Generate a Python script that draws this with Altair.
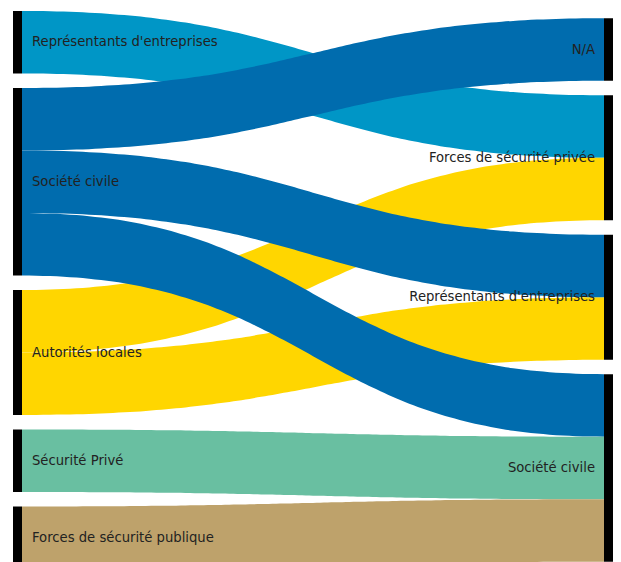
import altair as alt
import numpy as np
import pandas as pd

# ---- data ----
left_nodes = ["Représentants d'entreprises", "Société civile", "Autorités locales",
              "Sécurité Privé", "Forces de sécurité publique"]
right_nodes = ["N/A", "Forces de sécurité privée", "Représentants d'entreprises", "Société civile"]
right_labels = ["N/A", "Forces de sécurité privée", "Représentants d'entreprises  ", "Société civile"]

link_source = ["Représentants d'entreprises", "Autorités locales", "Autorités locales",
               "Société civile", "Société civile", "Société civile",
               "Sécurité Privé", "Forces de sécurité publique"]
link_target = ["Forces de sécurité privée", "Forces de sécurité privée", "Représentants d'entreprises",
               "N/A", "Représentants d'entreprises", "Société civile",
               "Société civile", "Société civile"]
link_value = [1, 1, 1, 1, 1, 1, 1, 1]

source_colors = {
    "Représentants d'entreprises": "#0096C6",
    "Société civile": "#006CAE",
    "Autorités locales": "#FFD600",
    "Sécurité Privé": "#69BFA1",
    "Forces de sécurité publique": "#BEA26B",
}

# ---- layout parameters ----
W, H = 605, 554
PX_PER_UNIT = 62.5
GAP = 14.5 / PX_PER_UNIT
SPAN_X = 600.0
NODE_W = 9 / SPAN_X
PAD_LEFT = 5 / SPAN_X
PAD_TOP = 3 / PX_PER_UNIT

n = len(link_value)
left_val = {k: sum(v for s, v in zip(link_source, link_value) if s == k) for k in left_nodes}
right_val = {k: sum(v for t, v in zip(link_target, link_value) if t == k) for k in right_nodes}
tot_l = sum(left_val.values()) + GAP * (len(left_nodes) - 1)
tot_r = sum(right_val.values()) + GAP * (len(right_nodes) - 1)
tot = max(tot_l, tot_r)

def tops(nodes, vals, total):
    y = (tot - total) / 2
    out = {}
    for k in nodes:
        out[k] = y
        y += vals[k] + GAP
    return out

ltop = tops(left_nodes, left_val, tot_l)
rtop = tops(right_nodes, right_val, tot_r)

# link ends
y0 = [0.0] * n
y1 = [0.0] * n
for k in left_nodes:
    idx = sorted([i for i in range(n) if link_source[i] == k], key=lambda i: right_nodes.index(link_target[i]))
    y = ltop[k]
    for i in idx:
        y0[i] = y
        y += link_value[i]
for k in right_nodes:
    idx = sorted([i for i in range(n) if link_target[i] == k], key=lambda i: left_nodes.index(link_source[i]))
    y = rtop[k]
    for i in idx:
        y1[i] = y
        y += link_value[i]

xa, xb = NODE_W, 1 - NODE_W
xm = (xa + xb) / 2
t = np.linspace(0, 1, 61)
def bez(p0, p1, p2, p3):
    return (1 - t) ** 3 * p0 + 3 * (1 - t) ** 2 * t * p1 + 3 * (1 - t) * t ** 2 * p2 + t ** 3 * p3

rows = []
for i in range(n):
    xs = bez(xa, xm, xm, xb)
    yt = bez(y0[i], y0[i], y1[i], y1[i])
    yb = yt + link_value[i]
    for a, b, c in zip(xs, yt, yb):
        rows.append({"link": i, "x": a, "y": b, "y2": c})
links_df = pd.DataFrame(rows)

nodes_rows = []
for k in left_nodes:
    nodes_rows.append({"label": k, "x": 0.0, "x2": NODE_W, "y": ltop[k], "y2": ltop[k] + left_val[k], "side": "L"})
for k, lab in zip(right_nodes, right_labels):
    nodes_rows.append({"label": lab, "x": 1 - NODE_W, "x2": 1.0, "y": rtop[k], "y2": rtop[k] + right_val[k], "side": "R"})
nodes_df = pd.DataFrame(nodes_rows)
nodes_df["ym"] = (nodes_df["y"] + nodes_df["y2"]) / 2

xs_scale = alt.Scale(domain=[-PAD_LEFT, -PAD_LEFT + W / SPAN_X], nice=False, zero=False)
ys_scale = alt.Scale(domain=[-PAD_TOP, -PAD_TOP + H / PX_PER_UNIT], nice=False, zero=False, reverse=True)

draw_order = [0, 1, 2, 3, 4, 5, 6, 7]
layers = []
for i in draw_order:
    layers.append(
        alt.Chart(links_df).transform_filter(alt.datum.link == i).mark_area(
            color=source_colors[link_source[i]], opacity=1, interpolate="monotone"
        ).encode(
            x=alt.X("x:Q", scale=xs_scale, axis=None),
            y=alt.Y("y:Q", scale=ys_scale, axis=None),
            y2="y2:Q",
        )
    )

bars = alt.Chart(nodes_df).mark_rect(color="black").encode(
    x=alt.X("x:Q", scale=xs_scale, axis=None), x2="x2:Q",
    y=alt.Y("y:Q", scale=ys_scale, axis=None), y2="y2:Q",
)

txt_l = alt.Chart(nodes_df).transform_filter(alt.datum.side == "L").mark_text(
    align="left", baseline="middle", dx=10, font="DejaVu Sans", fontSize=13.2, color="#222222"
).encode(x=alt.X("x2:Q", scale=xs_scale, axis=None), y=alt.Y("ym:Q", scale=ys_scale, axis=None), text="label:N")

txt_r = alt.Chart(nodes_df).transform_filter(alt.datum.side == "R").mark_text(
    align="right", baseline="middle", dx=-9, font="DejaVu Sans", fontSize=13.2, color="#222222"
).encode(x=alt.X("x:Q", scale=xs_scale, axis=None), y=alt.Y("ym:Q", scale=ys_scale, axis=None), text="label:N")

chart = alt.layer(*layers, bars, txt_l, txt_r).properties(
    width=W, height=H, padding=0
).configure_view(stroke=None)

chart.save("out.html", embed_options={"renderer": "svg", "actions": False})
